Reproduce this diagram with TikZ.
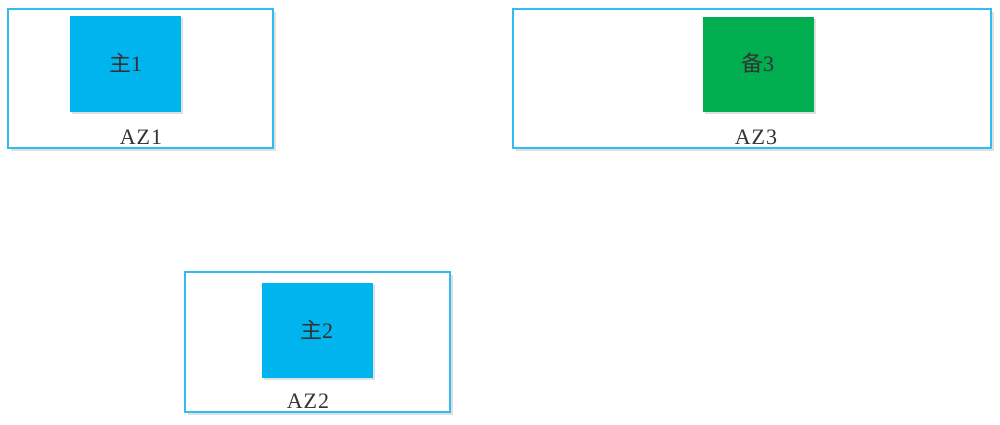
\documentclass[tikz,border=0pt]{standalone}
\usepackage{fontspec}
\setmainfont{Liberation Serif}
\newfontfamily\cjk{Noto Sans CJK SC}
\newfontfamily\azfont[LetterSpace=4]{Liberation Serif}
\definecolor{zoneline}{HTML}{33BDEF}
\definecolor{mainblue}{HTML}{00B4EE}
\definecolor{backgreen}{HTML}{00AD4F}
\definecolor{txt}{HTML}{333333}
\tikzset{
  x=1pt,y=-1pt,
  zone/.style={draw=zoneline,line width=1.6pt,fill=white},
  shadowbox/.style={fill=black!12},
  server/.style={inner sep=0pt,text=txt,font=\fontsize{22}{22}\selectfont},
  zonelabel/.style={text=txt,font=\azfont\fontsize{22}{22}\selectfont,inner sep=0pt},
}
\begin{document}
\begin{tikzpicture}
\useasboundingbox (0,0) rectangle (1000,425);
% shadows
\fill[shadowbox] (11,12) rectangle (276,151);
\fill[shadowbox] (516,12) rectangle (994,151);
\fill[shadowbox] (188,275) rectangle (453,415);
% zones
\draw[zone] (8,9) rectangle (273,148);
\draw[zone] (513,9) rectangle (991,148);
\draw[zone] (185,272) rectangle (450,412);
% servers
\fill[black!12] (72,18) rectangle (183,114);
\fill[mainblue] (70,16) rectangle (181,112);
\node[server] (m1) at (125.5,63) {{\cjk 主}1};
\fill[black!12] (705,19) rectangle (816,114);
\fill[backgreen] (703,17) rectangle (814,112);
\node[server] (b3) at (757.5,63) {{\cjk 备}3};
\fill[black!12] (264,285) rectangle (375,380);
\fill[mainblue] (262,283) rectangle (373,378);
\node[server] (m2) at (316.5,330) {{\cjk 主}2};
% labels
\node[zonelabel] (l1) at (141,137) {AZ1};
\node[zonelabel] (l3) at (756,137) {AZ3};
\node[zonelabel] (l2) at (308,401) {AZ2};
\end{tikzpicture}
\end{document}
